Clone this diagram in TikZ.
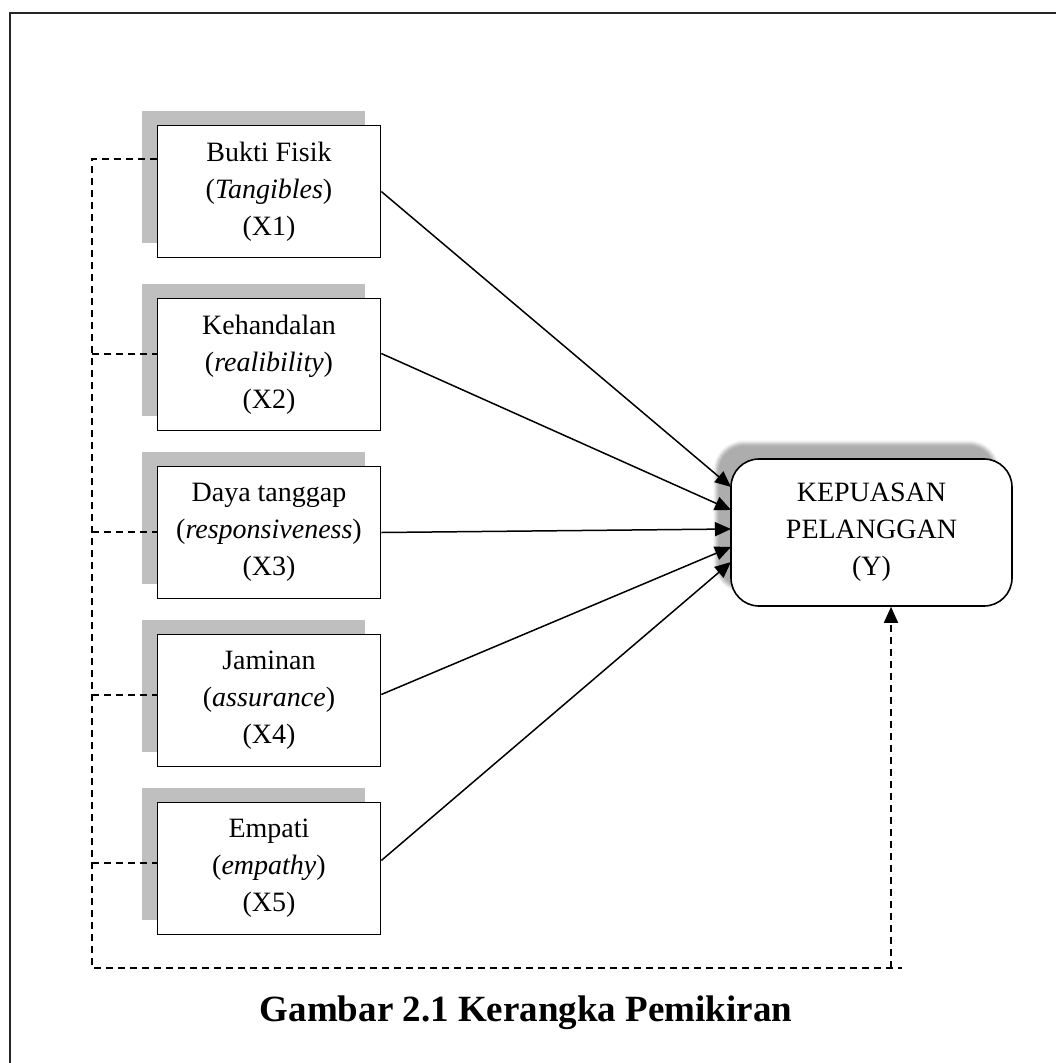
\documentclass[tikz,border=0pt]{standalone}
\usepackage{fontspec}
\setmainfont{Liberation Serif}
\usetikzlibrary{arrows.meta,shadows,shadows.blur}
\tikzstyle{factor}=[shape=rectangle,draw=black,line width=1.6pt,fill=white,minimum width=223pt,minimum height=132pt,align=center,font=\fontsize{28pt}{37pt}\selectfont,drop shadow={shadow xshift=-16pt,shadow yshift=15pt,fill=black!25,opacity=1}]
\tikzstyle{result}=[shape=rectangle,rounded corners=28pt,draw=black,line width=1.6pt,fill=white,minimum width=281pt,minimum height=147pt,align=center,font=\fontsize{28pt}{37pt}\selectfont,blur shadow={shadow xshift=-15pt,shadow yshift=16pt,shadow opacity=32,shadow blur radius=3pt}]
\tikzstyle{link}=[line width=1.6pt,dash pattern=on 7pt off 5pt]
\tikzstyle{effect}=[line width=1.5pt,-{Triangle[length=16pt,width=14pt]}]

\begin{document}
\begin{tikzpicture}[x=1pt,y=-1pt]
\useasboundingbox (0,0) rectangle (1056,1063);
\draw[line width=2.6pt,black!85] (10,13) rectangle (1080,1090);
% factors
  \node[factor] (x1) at (269,191.5) {Bukti Fisik\\(\textit{Tangibles})\\(X1)};
  \node[factor] (x2) at (269,364.5) {Kehandalan\\(\textit{realibility})\\(X2)};
  \node[factor] (x3) at (269,532.5) {Daya tanggap\\(\textit{responsiveness})\\(X3)};
  \node[factor] (x4) at (269,700.5) {Jaminan\\(\textit{assurance})\\(X4)};
  \node[factor] (x5) at (269,868.5) {Empati\\(\textit{empathy})\\(X5)};
% result
  \node[result] (y) at (871.5,532.5) {KEPUASAN\\PELANGGAN\\(Y)};
% arrows into Y
  \coordinate (t1) at (731,487);
  \coordinate (t2) at (731,510);
  \coordinate (t3) at (731,529);
  \coordinate (t4) at (731,547);
  \coordinate (t5) at (731,562);
  \draw[effect] (x1.east) -- (t1);
  \draw[effect] ([yshift=11pt]x2.east) -- (t2);
  \draw[effect] (x3.east) -- (t3);
  \draw[effect] ([yshift=6pt]x4.east) -- (t4);
  \draw[effect] ([yshift=8pt]x5.east) -- (t5);
% dashed links
  \coordinate (d1) at (92,159);
  \coordinate (d2) at (92,354);
  \coordinate (d3) at (92,532);
  \coordinate (d4) at (92,695);
  \coordinate (d5) at (92,863);
  \coordinate (dbot) at (92,968);
  \coordinate (dup) at (891,968);
  \coordinate (dend) at (902,968);
  \draw[link] (d1 -| x1.west) -- (d1) -- (dbot) -- (dend);
  \draw[link] (d2) -- (d2 -| x2.west);
  \draw[link] (d3) -- (d3 -| x3.west);
  \draw[link] (d4) -- (d4 -| x4.west);
  \draw[link] (d5) -- (d5 -| x5.west);
  \draw[link,-{Triangle[length=16pt,width=14pt]}] (dup) -- (dup |- y.south);
% caption
  \node[font=\fontsize{37pt}{44pt}\selectfont\bfseries] (cap) at (526,1013) {Gambar 2.1 Kerangka Pemikiran};
\end{tikzpicture}
\end{document}
